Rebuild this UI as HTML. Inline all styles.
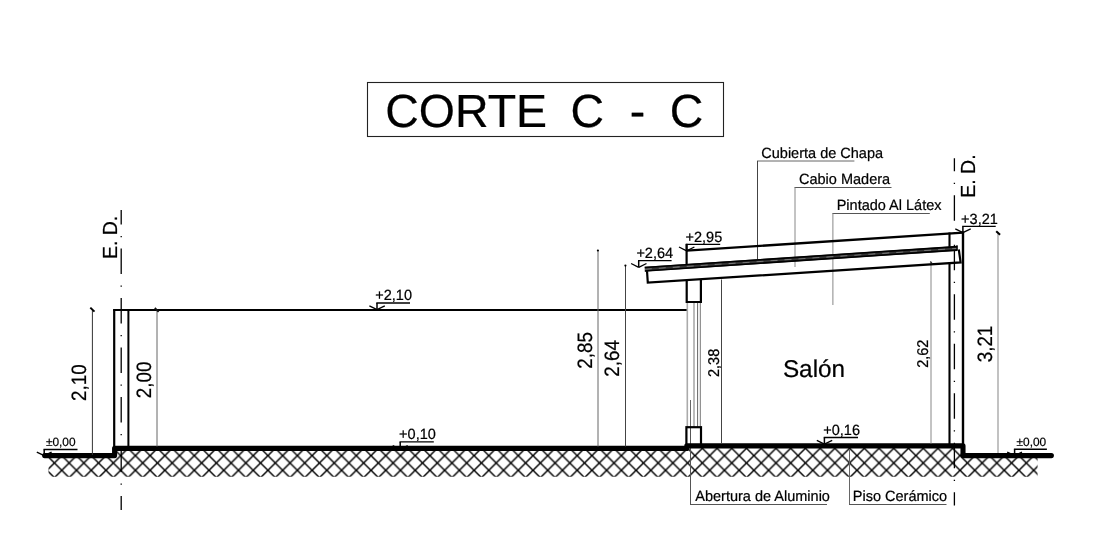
<!DOCTYPE html>
<html><head><meta charset="utf-8"><title>Corte C-C</title>
<style>
html,body{margin:0;padding:0;background:#fff;}
body{width:1094px;height:536px;overflow:hidden;font-family:"Liberation Sans",sans-serif;}
svg{display:block;font-family:"Liberation Sans",sans-serif;will-change:transform;}
text{fill:#000;text-rendering:geometricPrecision;stroke:#000;stroke-width:0.22px;}
</style></head><body>
<svg width="1094" height="536" viewBox="0 0 1094 536">
<defs>
<pattern id="hx" patternUnits="userSpaceOnUse" width="14.726" height="14.726" patternTransform="translate(47.04,455.6)">
<path d="M-1,-1 L15.726,15.726 M15.726,-1 L-1,15.726" stroke="#000" stroke-width="1.4" fill="none"/>
</pattern>
<clipPath id="gc"><path d="M48.5,456 L114.6,456 L114.6,449 L686.8,449 L686.8,446 L963,446 L963,456 L1037.6,456 L1037.6,476.8 L48.5,476.8 Z"/></clipPath>
</defs>
<rect width="1094" height="536" fill="#fff"/>

<rect x="367.5" y="82.5" width="356" height="54" fill="none" stroke="#222" stroke-width="1.1"/>
<text transform="translate(385.20,126.80)" font-size="46.5" text-anchor="start" stroke="#000" stroke-width="0.3">CORTE</text>
<text transform="translate(570.40,126.80)" font-size="46.5" text-anchor="start" stroke="#000" stroke-width="0.3">C</text>
<text transform="translate(629.80,127.00)" font-size="46.5" text-anchor="start" stroke="#000" stroke-width="0.3">-</text>
<text transform="translate(669.70,126.80)" font-size="46.5" text-anchor="start" stroke="#000" stroke-width="0.3">C</text>
<rect x="40" y="440" width="1010" height="40" fill="url(#hx)" clip-path="url(#gc)"/>
<line x1="690.50" y1="428.00" x2="690.50" y2="504.50" stroke="#555" stroke-width="1" />
<line x1="690.00" y1="504.50" x2="827.00" y2="504.50" stroke="#555" stroke-width="1" />
<line x1="849.50" y1="449.00" x2="849.50" y2="504.50" stroke="#666" stroke-width="1" />
<line x1="849.00" y1="504.50" x2="946.50" y2="504.50" stroke="#555" stroke-width="1" />
<line x1="121.20" y1="210.00" x2="121.20" y2="510.00" stroke="#000" stroke-width="1.3" stroke-dasharray="25.5 11.5 1.2 11.3" stroke-dashoffset="10.9"/>
<line x1="954.40" y1="158.30" x2="954.40" y2="505.50" stroke="#000" stroke-width="1.3" stroke-dasharray="25.5 11.5 1.2 11.3" stroke-dashoffset="12.6"/>
<path d="M44.6,455.6 L114.6,455.6 L114.6,448.4 L686.8,448.4 L686.8,445.9 L963,445.9 L963,455.6 L1051.4,455.6" fill="none" stroke="#000" stroke-width="5.1" stroke-linecap="round" stroke-linejoin="round"/>
<line x1="114.20" y1="309.50" x2="114.20" y2="448.00" stroke="#000" stroke-width="2.2" />
<line x1="128.40" y1="309.50" x2="128.40" y2="448.00" stroke="#000" stroke-width="2" />
<line x1="113.10" y1="310.00" x2="687.70" y2="310.00" stroke="#000" stroke-width="2.0" />
<text transform="translate(117.40,259.00) rotate(-90) scale(0.955,1)" font-size="20.4" text-anchor="start" >E. D.</text>
<text transform="translate(974.90,197.70) rotate(-90) scale(0.955,1)" font-size="20.4" text-anchor="start" >E. D.</text>
<line x1="92.40" y1="310.00" x2="92.40" y2="455.00" stroke="#333" stroke-width="1" />
<line x1="90.30" y1="307.60" x2="94.50" y2="311.60" stroke="#000" stroke-width="2.0" />
<line x1="157.00" y1="310.00" x2="157.00" y2="446.50" stroke="#666" stroke-width="1" />
<line x1="154.80" y1="307.80" x2="158.60" y2="311.90" stroke="#111" stroke-width="1.7" />
<text transform="translate(86.30,401.00) rotate(-90) scale(0.905,1)" font-size="20.8" text-anchor="start" >2,10</text>
<text transform="translate(150.80,398.20) rotate(-90) scale(0.905,1)" font-size="20.8" text-anchor="start" >2,00</text>
<line x1="376.30" y1="303.00" x2="410.00" y2="303.00" stroke="#000" stroke-width="1.4" />
<line x1="377.00" y1="303.00" x2="377.00" y2="309.70" stroke="#000" stroke-width="1.5" />
<line x1="369.40" y1="305.90" x2="377.00" y2="309.70" stroke="#000" stroke-width="1.3" />
<line x1="377.00" y1="309.70" x2="384.80" y2="305.90" stroke="#000" stroke-width="1.3" />
<text transform="translate(375.30,300.40) scale(0.98,1)" font-size="14.8" text-anchor="start" >+2,10</text>
<line x1="399.50" y1="441.90" x2="433.80" y2="441.90" stroke="#000" stroke-width="1.4" />
<line x1="400.20" y1="441.90" x2="400.20" y2="449.40" stroke="#000" stroke-width="1.5" />
<line x1="392.70" y1="445.70" x2="400.20" y2="449.40" stroke="#000" stroke-width="1.3" />
<line x1="400.20" y1="449.40" x2="407.70" y2="445.70" stroke="#000" stroke-width="1.3" />
<text transform="translate(399.10,439.40) scale(0.98,1)" font-size="14.8" text-anchor="start" >+0,10</text>
<line x1="823.70" y1="437.50" x2="858.00" y2="437.50" stroke="#000" stroke-width="1.4" />
<line x1="824.40" y1="437.50" x2="824.40" y2="444.20" stroke="#000" stroke-width="1.5" />
<line x1="816.80" y1="440.40" x2="824.40" y2="444.20" stroke="#000" stroke-width="1.3" />
<line x1="824.40" y1="444.20" x2="832.20" y2="440.40" stroke="#000" stroke-width="1.3" />
<text transform="translate(823.30,435.00) scale(0.98,1)" font-size="14.8" text-anchor="start" >+0,16</text>
<line x1="685.90" y1="244.40" x2="720.20" y2="244.40" stroke="#000" stroke-width="1.4" />
<line x1="686.60" y1="244.40" x2="686.60" y2="250.80" stroke="#000" stroke-width="1.5" />
<line x1="679.00" y1="247.00" x2="686.60" y2="250.80" stroke="#000" stroke-width="1.3" />
<line x1="686.60" y1="250.80" x2="694.40" y2="247.00" stroke="#000" stroke-width="1.3" />
<text transform="translate(685.50,241.90) scale(0.98,1)" font-size="14.8" text-anchor="start" >+2,95</text>
<line x1="638.00" y1="260.60" x2="671.60" y2="260.60" stroke="#000" stroke-width="1.4" />
<line x1="638.70" y1="260.60" x2="638.70" y2="267.30" stroke="#000" stroke-width="1.5" />
<line x1="631.10" y1="263.50" x2="638.70" y2="267.30" stroke="#000" stroke-width="1.3" />
<line x1="638.70" y1="267.30" x2="646.50" y2="263.50" stroke="#000" stroke-width="1.3" />
<text transform="translate(636.40,258.10) scale(0.98,1)" font-size="14.8" text-anchor="start" >+2,64</text>
<line x1="962.20" y1="226.40" x2="995.70" y2="226.40" stroke="#000" stroke-width="1.4" />
<line x1="962.90" y1="226.40" x2="962.90" y2="232.70" stroke="#000" stroke-width="1.5" />
<line x1="955.30" y1="228.90" x2="962.90" y2="232.70" stroke="#000" stroke-width="1.3" />
<line x1="962.90" y1="232.70" x2="970.70" y2="228.90" stroke="#000" stroke-width="1.3" />
<text transform="translate(961.10,223.90) scale(0.98,1)" font-size="14.8" text-anchor="start" >+3,21</text>
<line x1="43.50" y1="449.50" x2="77.50" y2="449.50" stroke="#000" stroke-width="1.4" />
<line x1="44.20" y1="449.50" x2="44.20" y2="455.60" stroke="#000" stroke-width="1.5" />
<line x1="36.80" y1="452.10" x2="44.20" y2="455.60" stroke="#000" stroke-width="1.3" />
<line x1="44.20" y1="455.60" x2="51.60" y2="452.10" stroke="#000" stroke-width="1.3" />
<text transform="translate(45.90,445.60) scale(0.99,1)" font-size="12" text-anchor="start" >&#177;0,00</text>
<line x1="1013.90" y1="449.30" x2="1046.90" y2="449.30" stroke="#000" stroke-width="1.4" />
<line x1="1014.60" y1="449.30" x2="1014.60" y2="455.60" stroke="#000" stroke-width="1.5" />
<line x1="1007.20" y1="452.10" x2="1014.60" y2="455.60" stroke="#000" stroke-width="1.3" />
<line x1="1014.60" y1="455.60" x2="1022.00" y2="452.10" stroke="#000" stroke-width="1.3" />
<text transform="translate(1016.50,445.70) scale(0.99,1)" font-size="12" text-anchor="start" >&#177;0,00</text>
<line x1="598.00" y1="250.50" x2="598.00" y2="446.50" stroke="#666" stroke-width="1" />
<circle cx="597.9" cy="250.5" r="1.1" fill="#000"/>
<line x1="625.50" y1="265.60" x2="625.50" y2="446.50" stroke="#444" stroke-width="1" />
<circle cx="625.4" cy="265.6" r="1.1" fill="#000"/>
<text transform="translate(591.80,368.70) rotate(-90) scale(0.905,1)" font-size="20.8" text-anchor="start" >2,85</text>
<text transform="translate(618.90,376.70) rotate(-90) scale(0.905,1)" font-size="20.8" text-anchor="start" >2,64</text>
<line x1="721.50" y1="279.50" x2="721.50" y2="443.50" stroke="#444" stroke-width="1" />
<text transform="translate(718.60,377.00) rotate(-90) scale(0.93,1)" font-size="15.6" text-anchor="start" >2,38</text>
<line x1="931.00" y1="262.50" x2="931.00" y2="443.50" stroke="#888" stroke-width="1" />
<line x1="930.30" y1="261.60" x2="931.80" y2="263.20" stroke="#333" stroke-width="1.4" />
<text transform="translate(927.50,367.80) rotate(-90) scale(0.93,1)" font-size="15.6" text-anchor="start" >2,62</text>
<line x1="998.00" y1="233.00" x2="998.00" y2="453.00" stroke="#999" stroke-width="1.2" />
<line x1="996.20" y1="231.30" x2="1000.10" y2="234.80" stroke="#000" stroke-width="2.0" />
<text transform="translate(992.40,362.30) rotate(-90) scale(0.905,1)" font-size="20.8" text-anchor="start" >3,21</text>
<line x1="687.30" y1="302.00" x2="687.30" y2="427.00" stroke="#aaa" stroke-width="1.6" />
<line x1="694.00" y1="302.00" x2="694.00" y2="427.00" stroke="#aaa" stroke-width="1.6" />
<line x1="697.60" y1="302.00" x2="697.60" y2="427.00" stroke="#666" stroke-width="1" />
<line x1="700.30" y1="302.00" x2="700.30" y2="427.00" stroke="#777" stroke-width="1" />
<line x1="690.50" y1="400.00" x2="690.50" y2="427.00" stroke="#666" stroke-width="1" />
<path d="M686.7,280 L686.7,302 L700.9,302 L700.9,279" fill="none" stroke="#000" stroke-width="2.2"/>
<rect x="686.4" y="427.2" width="14.6" height="18" fill="none" stroke="#000" stroke-width="2.2"/>
<text transform="translate(761.30,157.70) scale(0.98,1)" font-size="14.8" text-anchor="start" >Cubierta de Chapa</text>
<text transform="translate(799.00,184.00) scale(0.98,1)" font-size="14.8" text-anchor="start" >Cabio Madera</text>
<text transform="translate(836.70,209.90) scale(0.98,1)" font-size="14.8" text-anchor="start" >Pintado Al L&#225;tex</text>
<text transform="translate(695.30,500.70) scale(0.98,1)" font-size="14.8" text-anchor="start" >Abertura de Aluminio</text>
<text transform="translate(852.80,500.70) scale(0.98,1)" font-size="14.8" text-anchor="start" >Piso Cer&#225;mico</text>
<text transform="translate(782.90,376.50) scale(1.005,1)" font-size="24.2" text-anchor="start" >Sal&#243;n</text>
<line x1="757.00" y1="161.00" x2="854.40" y2="161.00" stroke="#666" stroke-width="1" />
<line x1="757.50" y1="161.00" x2="757.50" y2="259.50" stroke="#444" stroke-width="1" />
<line x1="794.50" y1="187.50" x2="891.50" y2="187.50" stroke="#555" stroke-width="1" />
<line x1="795.00" y1="187.50" x2="795.00" y2="267.00" stroke="#888" stroke-width="1" />
<line x1="832.40" y1="213.50" x2="929.80" y2="213.50" stroke="#555" stroke-width="1" />
<line x1="832.90" y1="213.50" x2="832.90" y2="305.00" stroke="#888" stroke-width="1" />
<line x1="949.50" y1="232.50" x2="949.50" y2="247.50" stroke="#000" stroke-width="2.1" />
<line x1="949.50" y1="263.00" x2="949.50" y2="446.00" stroke="#000" stroke-width="2.1" />
<line x1="686.60" y1="250.70" x2="963.30" y2="232.60" stroke="#000" stroke-width="2.3" />
<line x1="686.60" y1="243.80" x2="686.60" y2="266.00" stroke="#000" stroke-width="2.2" />
<path d="M647.0,270.8 L647.8,282.7 L960.6,262.43 L958.8,249.5" fill="none" stroke="#000" stroke-width="2.2" stroke-linejoin="miter"/>
<line x1="644.80" y1="269.20" x2="957.40" y2="248.35" stroke="#333" stroke-width="4.8" />
<line x1="644.80" y1="269.20" x2="957.40" y2="248.35" stroke="#777" stroke-width="1.1" stroke-dasharray="7 7"/>
<line x1="644.80" y1="267.45" x2="957.40" y2="246.60" stroke="#000" stroke-width="1.6" />
<line x1="644.80" y1="270.95" x2="957.40" y2="250.10" stroke="#000" stroke-width="1.6" />
<line x1="957.00" y1="245.20" x2="957.00" y2="250.30" stroke="#000" stroke-width="1.3" />
<line x1="963.00" y1="231.50" x2="963.00" y2="455.00" stroke="#000" stroke-width="2.4" />
</svg></body></html>
